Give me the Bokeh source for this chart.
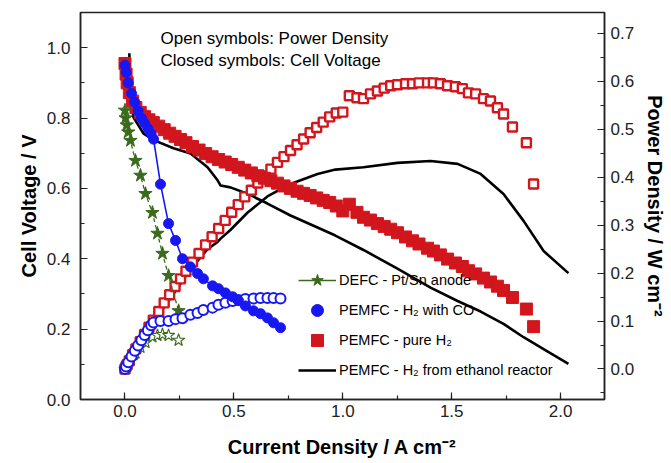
from bokeh.plotting import figure
from bokeh.models import (Range1d, LinearAxis, SingleIntervalTicker, PrintfTickFormatter,
                          Legend, LegendItem, Label)
from bokeh.embed import file_html
from bokeh.resources import INLINE

# ---------------- data ----------------
# PEMFC - pure H2
h2_i = [0.000, 0.005, 0.010, 0.020, 0.035, 0.050, 0.070, 0.090, 0.110, 0.130, 0.155, 0.180,
        0.205, 0.230, 0.255, 0.280, 0.310, 0.340, 0.370, 0.400, 0.430, 0.460, 0.490, 0.520,
        0.550, 0.580, 0.610, 0.640, 0.670, 0.700, 0.730, 0.760, 0.790, 0.820, 0.850, 0.880,
        0.910, 0.940, 0.970, 1.000, 1.030, 1.065, 1.095, 1.127, 1.159, 1.190, 1.220, 1.251,
        1.288, 1.320, 1.350, 1.389, 1.416, 1.448, 1.481, 1.517, 1.549, 1.577, 1.610, 1.646,
        1.678, 1.710, 1.738, 1.779, 1.843, 1.876]
h2_v = [0.955, 0.925, 0.900, 0.872, 0.848, 0.830, 0.816, 0.804, 0.795, 0.787, 0.777, 0.767,
        0.757, 0.748, 0.739, 0.730, 0.719, 0.709, 0.699, 0.690, 0.682, 0.675, 0.668, 0.660,
        0.652, 0.644, 0.636, 0.629, 0.622, 0.615, 0.607, 0.600, 0.592, 0.586, 0.580, 0.573,
        0.566, 0.560, 0.550, 0.536, 0.555, 0.532, 0.518, 0.510, 0.500, 0.492, 0.484, 0.474,
        0.462, 0.451, 0.442, 0.430, 0.422, 0.411, 0.399, 0.388, 0.378, 0.366, 0.357, 0.345,
        0.334, 0.322, 0.310, 0.290, 0.257, 0.207]
h2_p = [0.000, 0.005, 0.009, 0.017, 0.030, 0.042, 0.057, 0.072, 0.087, 0.102, 0.120, 0.138,
        0.155, 0.172, 0.188, 0.204, 0.223, 0.241, 0.259, 0.276, 0.293, 0.310, 0.327, 0.343,
        0.359, 0.373, 0.388, 0.403, 0.417, 0.431, 0.443, 0.456, 0.468, 0.480, 0.493, 0.504,
        0.515, 0.526, 0.534, 0.536, 0.570, 0.566, 0.564, 0.574, 0.580, 0.586, 0.591, 0.593,
        0.595, 0.595, 0.597, 0.597, 0.597, 0.595, 0.591, 0.589, 0.585, 0.576, 0.574, 0.564,
        0.559, 0.545, 0.532, 0.505, 0.472, 0.386]

# PEMFC - H2 with CO
co_i = [0.000, 0.005, 0.015, 0.030, 0.045, 0.060, 0.075, 0.090, 0.105, 0.120, 0.131, 0.163,
        0.200, 0.232, 0.264, 0.300, 0.333, 0.360, 0.402, 0.429, 0.461, 0.494, 0.521, 0.553,
        0.590, 0.622, 0.654, 0.682, 0.714]
co_v = [0.950, 0.930, 0.900, 0.870, 0.845, 0.820, 0.800, 0.785, 0.770, 0.755, 0.740, 0.612,
        0.500, 0.452, 0.400, 0.377, 0.358, 0.343, 0.323, 0.315, 0.303, 0.292, 0.281, 0.266,
        0.252, 0.244, 0.232, 0.218, 0.204]
co_p = [0.000, 0.005, 0.014, 0.026, 0.038, 0.049, 0.060, 0.071, 0.081, 0.091, 0.097, 0.100,
        0.100, 0.104, 0.106, 0.113, 0.117, 0.123, 0.128, 0.134, 0.138, 0.142, 0.144, 0.146,
        0.147, 0.148, 0.148, 0.148, 0.147]

# DEFC - Pt/Sn anode
defc_i = [0.000, 0.003, 0.008, 0.015, 0.025, 0.048, 0.071, 0.094, 0.126, 0.149, 0.172, 0.200, 0.246]
defc_v = [0.822, 0.800, 0.780, 0.760, 0.736, 0.679, 0.637, 0.585, 0.531, 0.472, 0.415, 0.352, 0.252]
defc_p = [0.000, 0.002, 0.006, 0.011, 0.018, 0.033, 0.045, 0.055, 0.067, 0.070, 0.072, 0.070, 0.060]

# PEMFC - H2 from ethanol reactor
eth_i = [0.020, 0.021, 0.024, 0.039, 0.085, 0.140, 0.223, 0.301, 0.379, 0.425, 0.439, 0.484,
         0.562, 0.654, 0.760, 0.884, 0.966, 1.095, 1.251, 1.403, 1.527, 1.633, 1.738, 1.830,
         1.922, 2.036]
eth_v = [0.984, 0.920, 0.860, 0.802, 0.756, 0.735, 0.714, 0.699, 0.660, 0.623, 0.608, 0.603,
         0.585, 0.557, 0.523, 0.489, 0.466, 0.425, 0.372, 0.318, 0.280, 0.250, 0.215, 0.177,
         0.143, 0.101]
eth_p = [0.020, 0.019, 0.021, 0.031, 0.064, 0.103, 0.157, 0.208, 0.250, 0.265, 0.272, 0.290,
         0.326, 0.360, 0.386, 0.407, 0.416, 0.421, 0.430, 0.434, 0.428, 0.407, 0.365, 0.309,
         0.246, 0.200]

legend_labels = ["DEFC - Pt/Sn anode", "PEMFC - H\u2082 with CO",
                 "PEMFC - pure H\u2082", "PEMFC - H\u2082 from ethanol reactor"]

# ---------------- styling ----------------
FONT = "Liberation Sans"
RED = "#D2161E"
BLUE = "#1717F2"
GREEN = "#3A6B1C"

p = figure(frame_width=524, frame_height=387,
           x_range=Range1d(-0.2043, 2.2016), y_range=Range1d(0.0, 1.1),
           output_backend="svg", toolbar_location=None,
           min_border_left=80, min_border_right=59, min_border_top=12, min_border_bottom=56)
p.extra_y_ranges = {"pd": Range1d(-0.0637, 0.7438)}
p.xgrid.visible = False
p.ygrid.visible = False
p.outline_line_color = "#222222"
p.outline_line_width = 1.5
p.background_fill_color = "white"
p.border_fill_color = "white"

right = LinearAxis(y_range_name="pd")
p.add_layout(right, "right")


def style_axis(ax, interval, label, standoff, lab_standoff):
    ax.ticker = SingleIntervalTicker(interval=interval, num_minor_ticks=2)
    ax.formatter = PrintfTickFormatter(format="%.1f")
    ax.axis_label = label
    ax.axis_label_text_font = FONT
    ax.axis_label_text_font_style = "bold"
    ax.axis_label_text_font_size = "20px"
    ax.axis_label_text_color = "black"
    ax.axis_label_standoff = lab_standoff
    ax.major_label_text_font = FONT
    ax.major_label_text_font_size = "17px"
    ax.major_label_text_color = "#222222"
    ax.major_label_standoff = standoff
    ax.major_tick_in = 7
    ax.major_tick_out = 0
    ax.minor_tick_in = 4
    ax.minor_tick_out = 0
    ax.axis_line_color = "#222222"
    ax.axis_line_width = 1.5
    ax.major_tick_line_color = "#222222"
    ax.major_tick_line_width = 1.2
    ax.minor_tick_line_color = "#222222"
    ax.minor_tick_line_width = 1.2


style_axis(p.xaxis[0], 0.5, "Current Density / A cm\u207b\u00b2", 5, 16)
style_axis(p.yaxis[0], 0.2, "Cell Voltage / V", 10, 4)
style_axis(right, 0.1, "Power Density / W cm\u207b\u00b2", 6, 7)

# ---------------- glyphs ----------------
# black: H2 from ethanol reactor
eth_v_r = p.line(eth_i, eth_v, line_color="black", line_width=2.6)
p.line(eth_i, eth_p, line_color="black", line_width=2.6, y_range_name="pd")

# red: pure H2
p.scatter(h2_i, h2_p, marker="square", size=9, fill_color="white", line_color=RED,
          line_width=2.4, y_range_name="pd")
h2_r = p.scatter(h2_i, h2_v, marker="square", size=12, fill_color=RED, line_color=RED)

# green: DEFC
p.scatter(defc_i, defc_p, marker="star", size=13, fill_color="white", line_color=GREEN,
          line_width=1.1, y_range_name="pd")
p.line(defc_i, defc_v, line_color=GREEN, line_width=1.3, line_dash="4 3")
defc_r = p.scatter(defc_i, defc_v, marker="star", size=14, fill_color=GREEN, line_color=GREEN)
# single-point solid line: draws nothing in the plot, gives the solid legend line
defc_leg_line = p.line(defc_i[:1], defc_v[:1], line_color=GREEN, line_width=1.3)

# blue: H2 with CO
p.scatter(co_i, co_p, marker="circle", size=10, fill_color="white", line_color=BLUE,
          line_width=2.0, y_range_name="pd")
p.line(co_i, co_v, line_color=BLUE, line_width=1.6)
co_r = p.scatter(co_i, co_v, marker="circle", size=10, fill_color=BLUE, line_color=BLUE)

legend = Legend(items=[
    LegendItem(label=legend_labels[0], renderers=[defc_leg_line, defc_r]),
    LegendItem(label=legend_labels[1], renderers=[co_r]),
    LegendItem(label=legend_labels[2], renderers=[h2_r]),
    LegendItem(label=legend_labels[3], renderers=[eth_v_r]),
], location=(218, 14), border_line_alpha=0, background_fill_alpha=0,
    label_text_font=FONT, label_text_font_size="14.5px", label_text_color="black",
    glyph_width=38, glyph_height=30, label_height=30, spacing=-8, padding=0, margin=0,
    label_standoff=3)
p.add_layout(legend)

for txt, ys in (("Open symbols: Power Density", 361), ("Closed symbols: Cell Voltage", 339)):
    p.add_layout(Label(x=80, y=ys, x_units="screen", y_units="screen", text=txt,
                       text_font=FONT, text_font_size="17px", text_baseline="middle",
                       text_color="black"))

open("out.html", "w").write(file_html(p, INLINE))
